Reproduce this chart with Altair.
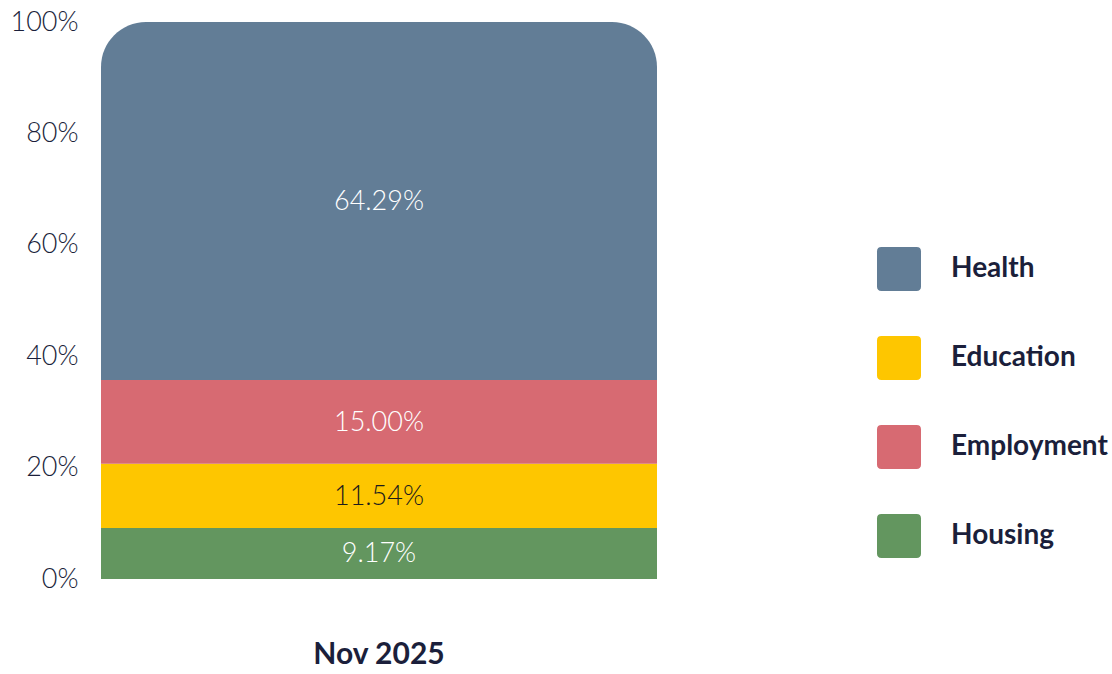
import altair as alt
import pandas as pd

categories = ["Health", "Education", "Employment", "Housing"]
values = [64.29, 11.54, 15.00, 9.17]
stack_rank = [3, 1, 2, 0]  # position in stack from bottom
colors = ["#627d96", "#fec600", "#d76a72", "#63965f"]
period = "Nov 2025"

df = pd.DataFrame({
    "category": categories,
    "value": values,
    "rank": stack_rank,
    "period": [period] * len(categories),
})

TEXT = "#1b1f3b"
FONT = "Lato"

rounded_square = ("M-0.8,-1 L0.8,-1 Q1,-1 1,-0.8 L1,0.8 Q1,1 0.8,1 L-0.8,1 "
                  "Q-1,1 -1,0.8 L-1,-0.8 Q-1,-1 -0.8,-1 Z")

base = alt.Chart(df).transform_stack(
    stack="value", as_=["y0", "y1"], groupby=["period"],
    sort=[alt.SortField("rank", order="ascending")]
).transform_calculate(
    mid="(datum.y0 + datum.y1) / 2",
    label="format(datum.value, '.2f') + '%'"
)

x_enc = alt.X("period:N", title=None,
              scale=alt.Scale(paddingInner=0, paddingOuter=0),
              axis=alt.Axis(labelAngle=0, ticks=False, domain=False,
                            labelFontSize=30, labelFontWeight="bold",
                            labelColor=TEXT, labelFont=FONT, labelPadding=60))
y_enc = alt.Y("y0:Q", title=None,
              scale=alt.Scale(domain=[0, 100]),
              axis=alt.Axis(values=[0, 20, 40, 60, 80, 100],
                            labelExpr="datum.value + '%'",
                            ticks=False, domain=False, grid=False,
                            labelFontSize=27, labelColor=TEXT, labelFont=FONT,
                            labelFontWeight=300, labelPadding=23))
color_enc = alt.Color("category:N",
                      scale=alt.Scale(domain=categories, range=colors),
                      legend=alt.Legend(title=None, orient="none",
                                        legendX=776, legendY=225,
                                        symbolType=rounded_square,
                                        symbolSize=1936, symbolStrokeWidth=0,
                                        symbolOpacity=1,
                                        labelFontSize=28, labelFontWeight="bold",
                                        labelColor=TEXT, labelFont=FONT,
                                        labelOffset=30, rowPadding=45,
                                        labelLimit=300))

others = base.transform_filter("datum.category != 'Health'").mark_bar(
    strokeWidth=0
).encode(x=x_enc, y=y_enc, y2="y1:Q", color=color_enc)

health = base.transform_filter("datum.category == 'Health'").mark_bar(
    cornerRadiusTopLeft=45, cornerRadiusTopRight=45, strokeWidth=0
).encode(x=x_enc, y=y_enc, y2="y1:Q", color=color_enc)

text = base.mark_text(fontSize=27, font=FONT, fontWeight=300, dy=1).encode(
    x=alt.X("period:N"),
    y=alt.Y("mid:Q"),
    text="label:N",
    color=alt.when("datum.category == 'Education'").then(alt.value("#1c1c1c")).otherwise(alt.value("white")),
)

chart = alt.layer(others, health, text).properties(
    width=556, height=557,
    autosize=alt.AutoSizeParams(type="none"),
    padding={"left": 101, "top": 22, "right": 455, "bottom": 95},
    background="white",
).configure_view(strokeWidth=0)

chart.save("out.html", embed_options={"renderer": "svg", "actions": False})
